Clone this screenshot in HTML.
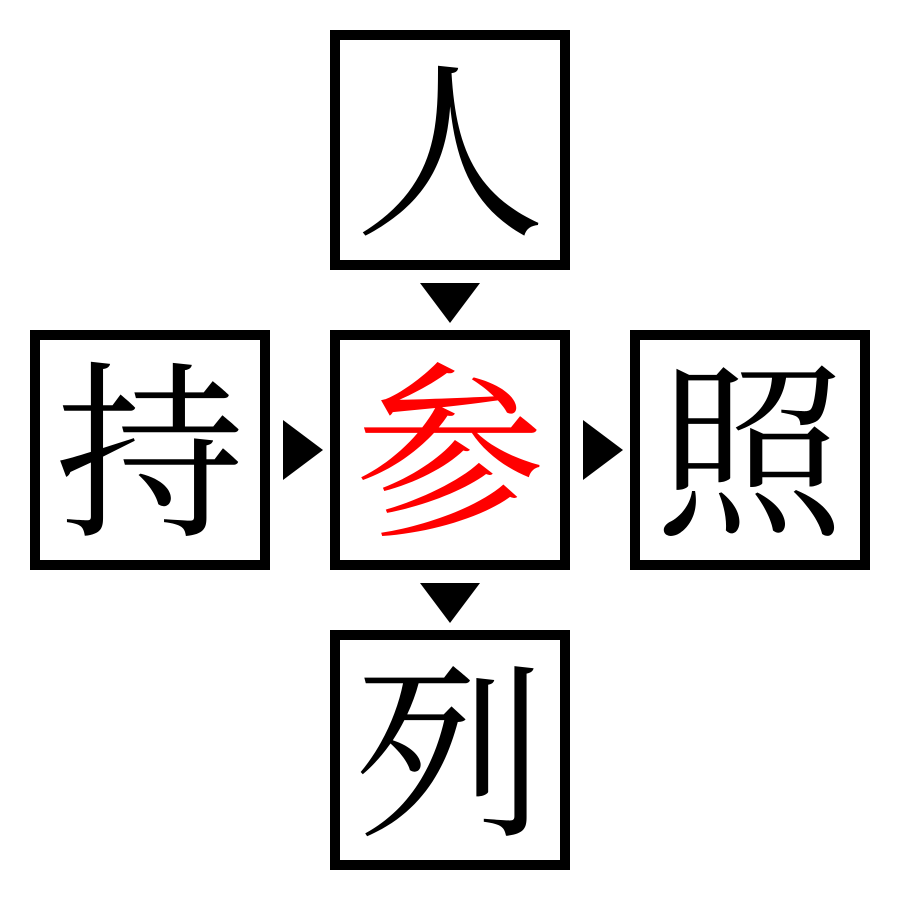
<!DOCTYPE html>
<html><head><meta charset="utf-8"><style>
body{margin:0;background:#fff;width:900px;height:900px;position:relative;overflow:hidden}
.b{position:absolute;width:220px;height:220px;border:10px solid #000;background:#fff;
font-family:"Noto Serif CJK SC","Noto Serif CJK JP",serif;font-size:190px;line-height:220px;text-align:center;color:#000;overflow:hidden}
.b span{position:relative;top:-10px}
svg{position:absolute;left:0;top:0}
</style></head><body>
<div class="b" style="left:330px;top:30px"><span>人</span></div>
<div class="b" style="left:30px;top:330px"><span>持</span></div>
<div class="b" style="left:330px;top:330px;color:#f00"><span>参</span></div>
<div class="b" style="left:630px;top:330px"><span>照</span></div>
<div class="b" style="left:330px;top:630px"><span>列</span></div>
<svg width="900" height="900">
<polygon points="420,283 480,283 450,323"/>
<polygon points="420,583 480,583 450,623"/>
<polygon points="283,420 283,480 323,450"/>
<polygon points="583,420 583,480 623,450"/>
</svg>
</body></html>
